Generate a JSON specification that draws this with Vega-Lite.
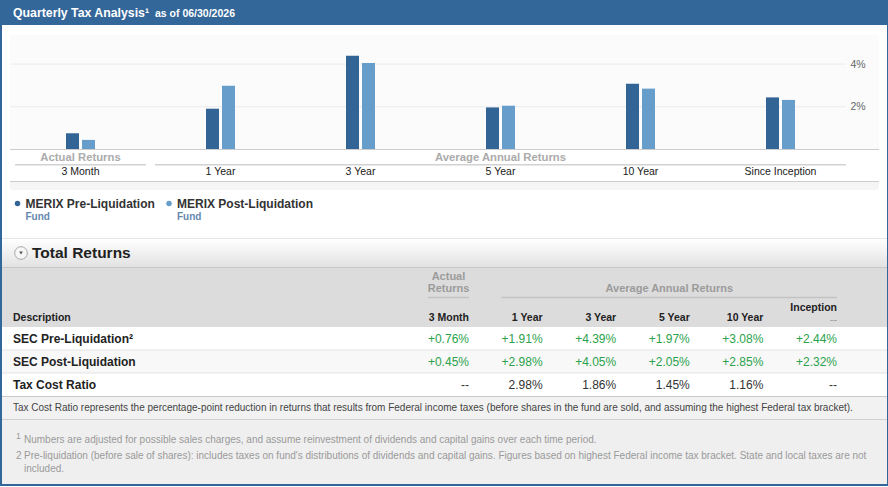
{
  "$schema": "https://vega.github.io/schema/vega-lite/v6.json",
  "background": "#336699",
  "padding": {"left": 1, "top": 0, "right": 2, "bottom": 2},
  "spacing": 0,
  "bounds": "flush",
  "config": {
    "view": {"stroke": null},
    "font": "Liberation Sans",
    "text": {"font": "Liberation Sans"}
  },
  "datasets": {
    "returns": [
      {"row": "SEC Pre-Liquidation", "period": "3 Month", "value": 0.76},
      {"row": "SEC Pre-Liquidation", "period": "1 Year", "value": 1.91},
      {"row": "SEC Pre-Liquidation", "period": "3 Year", "value": 4.39},
      {"row": "SEC Pre-Liquidation", "period": "5 Year", "value": 1.97},
      {"row": "SEC Pre-Liquidation", "period": "10 Year", "value": 3.08},
      {"row": "SEC Pre-Liquidation", "period": "Since Inception", "value": 2.44},
      {"row": "SEC Post-Liquidation", "period": "3 Month", "value": 0.45},
      {"row": "SEC Post-Liquidation", "period": "1 Year", "value": 2.98},
      {"row": "SEC Post-Liquidation", "period": "3 Year", "value": 4.05},
      {"row": "SEC Post-Liquidation", "period": "5 Year", "value": 2.05},
      {"row": "SEC Post-Liquidation", "period": "10 Year", "value": 2.85},
      {"row": "SEC Post-Liquidation", "period": "Since Inception", "value": 2.32},
      {"row": "Tax Cost Ratio", "period": "3 Month", "value": null},
      {"row": "Tax Cost Ratio", "period": "1 Year", "value": 2.98},
      {"row": "Tax Cost Ratio", "period": "3 Year", "value": 1.86},
      {"row": "Tax Cost Ratio", "period": "5 Year", "value": 1.45},
      {"row": "Tax Cost Ratio", "period": "10 Year", "value": 1.16},
      {"row": "Tax Cost Ratio", "period": "Since Inception", "value": null}
    ],
    "periods": [
      {"period": "3 Month"},
      {"period": "1 Year"},
      {"period": "3 Year"},
      {"period": "5 Year"},
      {"period": "10 Year"},
      {"period": "Since Inception"}
    ],
    "groups": [
      {"group": "Actual Returns", "center": "3 Month", "first": "3 Month", "last": "3 Month"},
      {"group": "Average Annual Returns", "center": "5 Year", "first": "1 Year", "last": "Since Inception"}
    ],
    "series": [
      {"series": "MERIX Pre-Liquidation", "kind": "Fund"},
      {"series": "MERIX Post-Liquidation", "kind": "Fund"}
    ],
    "rows": [
      {"row": "SEC Pre-Liquidation", "label": "SEC Pre-Liquidation²"},
      {"row": "SEC Post-Liquidation", "label": "SEC Post-Liquidation"},
      {"row": "Tax Cost Ratio", "label": "Tax Cost Ratio"}
    ]
  },
  "vconcat": [
    {
      "width": 885, "height": 25,
      "view": {"fill": "#336699"},
      "data": {"values": [
        {"part": "title", "text": "Quarterly Tax Analysis¹"},
        {"part": "date", "text": "as of 06/30/2026"}
      ]},
      "encoding": {
        "x": {"field": "part", "type": "nominal", "scale": {"type": "point", "domain": ["title", "date"], "range": [11, 153], "padding": 0}, "axis": null},
        "text": {"field": "text", "type": "nominal"}
      },
      "layer": [
        {"transform": [{"filter": "datum.part === 'title'"}],
         "mark": {"type": "text", "align": "left", "baseline": "alphabetic", "dy": 4.5, "fontSize": 12.3, "fontWeight": "bold", "color": "#ffffff"}},
        {"transform": [{"filter": "datum.part === 'date'"}],
         "mark": {"type": "text", "align": "left", "baseline": "alphabetic", "dy": 4.5, "fontSize": 10.5, "fontWeight": "bold", "color": "#ffffff"}}
      ]
    },
    {
      "width": 885, "height": 10,
      "view": {"fill": "#ffffff"},
      "data": {"values": [{}]},
      "mark": {"type": "rect", "color": "#ffffff"},
      "encoding": {}
    },
    {
      "width": 885, "height": 115,
      "view": {"fill": "#ffffff"},
      "resolve": {"scale": {"x": "independent", "y": "independent"}},
      "layer": [
        {
          "data": {"values": [{}]},
          "mark": {"type": "rect", "color": "#fbfbfb"},
          "encoding": {
            "x": {"datum": "from", "type": "nominal", "scale": {"type": "point", "domain": ["from", "to"], "range": [8, 877], "padding": 0}, "axis": null},
            "x2": {"datum": "to"}
          }
        },
        {
          "data": {"values": [{"level": 2}, {"level": 4}]},
          "mark": {"type": "rule", "color": "#ebebeb", "strokeWidth": 1},
          "encoding": {
            "x": {"datum": "from", "type": "nominal", "scale": {"type": "point", "domain": ["from", "to"], "range": [8, 844], "padding": 0}, "axis": null},
            "x2": {"datum": "to"},
            "y": {"field": "level", "type": "quantitative", "scale": {"domain": [0, 5.36], "range": [114.5, 0], "nice": false, "zero": false}, "axis": null}
          }
        },
        {
          "data": {"name": "returns"},
          "transform": [{"filter": "datum.row !== 'Tax Cost Ratio'"}],
          "mark": {"type": "bar"},
          "encoding": {
            "x": {"field": "period", "type": "nominal", "scale": {"type": "band", "domain": ["3 Month", "1 Year", "3 Year", "5 Year", "10 Year", "Since Inception"], "range": [8.5, 848.5], "paddingInner": 0.7929, "paddingOuter": 0.3964}, "axis": null},
            "xOffset": {"field": "row", "type": "nominal", "scale": {"domain": ["SEC Pre-Liquidation", "SEC Post-Liquidation"], "paddingInner": 0.1875, "paddingOuter": 0}},
            "y": {"field": "value", "type": "quantitative", "scale": {"domain": [0, 5.36], "range": [114.5, 0], "nice": false, "zero": false},
                  "axis": {"orient": "right", "offset": -38, "zindex": 1, "values": [2, 4], "labelExpr": "datum.value + '%'", "domain": false, "ticks": false, "grid": false, "labelPadding": 1, "labelColor": "#666666", "labelFontSize": 10.5, "labelFont": "Liberation Sans", "title": null}},
            "color": {"field": "row", "type": "nominal", "scale": {"domain": ["SEC Pre-Liquidation", "SEC Post-Liquidation"], "range": ["#326496", "#679dcb"]}, "legend": null}
          }
        },
        {
          "data": {"values": [{"level": 0}]},
          "mark": {"type": "rule", "color": "#cccccc", "strokeWidth": 1},
          "encoding": {
            "x": {"datum": "from", "type": "nominal", "scale": {"type": "point", "domain": ["from", "to"], "range": [8, 877], "padding": 0}, "axis": null},
            "x2": {"datum": "to"},
            "y": {"field": "level", "type": "quantitative", "scale": {"domain": [0, 5.36], "range": [114.5, 0], "nice": false, "zero": false}, "axis": null}
          }
        }
      ]
    },
    {
      "width": 885, "height": 31,
      "view": {"fill": "#ffffff"},
      "resolve": {"scale": {"x": "independent"}},
      "layer": [
        {
          "data": {"name": "groups"},
          "mark": {"type": "text", "fontSize": 11.3, "fontWeight": "bold", "color": "#ababab"},
          "encoding": {
            "x": {"field": "center", "type": "nominal", "scale": {"type": "band", "domain": ["3 Month", "1 Year", "3 Year", "5 Year", "10 Year", "Since Inception"], "range": [8.5, 848.5], "paddingInner": 0.7929, "paddingOuter": 0.3964}, "axis": null},
            "y": {"datum": "group", "type": "nominal", "scale": {"type": "point", "domain": ["group", "underline", "category"], "range": [7.5, 22], "padding": 0}, "axis": null},
            "text": {"field": "group", "type": "nominal"}
          }
        },
        {
          "data": {"name": "groups"},
          "mark": {"type": "rule", "color": "#d2d2d2", "strokeWidth": 1.5},
          "encoding": {
            "x": {"field": "first", "type": "nominal", "bandPosition": 0, "scale": {"type": "band", "domain": ["3 Month", "1 Year", "3 Year", "5 Year", "10 Year", "Since Inception"], "range": [8.5, 848.5], "paddingInner": 0.0643, "paddingOuter": 0.0321}, "axis": null},
            "x2": {"field": "last", "bandPosition": 1},
            "y": {"datum": "underline", "type": "nominal", "scale": {"type": "point", "domain": ["group", "underline", "category"], "range": [7.5, 22], "padding": 0}, "axis": null}
          }
        },
        {
          "data": {"name": "periods"},
          "mark": {"type": "text", "fontSize": 10.5, "color": "#1a1a1a"},
          "encoding": {
            "x": {"field": "period", "type": "nominal", "scale": {"type": "band", "domain": ["3 Month", "1 Year", "3 Year", "5 Year", "10 Year", "Since Inception"], "range": [8.5, 848.5], "paddingInner": 0.7929, "paddingOuter": 0.3964}, "axis": null},
            "y": {"datum": "category", "type": "nominal", "scale": {"type": "point", "domain": ["group", "underline", "category"], "range": [7.5, 22], "padding": 0}, "axis": null},
            "text": {"field": "period", "type": "nominal"}
          }
        }
      ]
    },
    {
      "width": 885, "height": 1,
      "view": {"fill": "#ffffff"},
      "data": {"values": [{}]},
      "mark": {"type": "rect", "color": "#cdcdcd"},
      "encoding": {
        "x": {"datum": "from", "type": "nominal", "scale": {"type": "point", "domain": ["from", "to"], "range": [8, 877], "padding": 0}, "axis": null},
        "x2": {"datum": "to"}
      }
    },
    {
      "width": 885, "height": 8,
      "view": {"fill": "#ffffff"},
      "data": {"values": [{}]},
      "mark": {"type": "rect", "color": "#f5f5f5", "cornerRadiusBottomLeft": 3, "cornerRadiusBottomRight": 3},
      "encoding": {
        "x": {"datum": "from", "type": "nominal", "scale": {"type": "point", "domain": ["from", "to"], "range": [8, 877], "padding": 0}, "axis": null},
        "x2": {"datum": "to"}
      }
    },
    {
      "width": 885, "height": 48,
      "view": {"fill": "#ffffff"},
      "data": {"name": "series"},
      "encoding": {
        "x": {"field": "series", "type": "nominal", "scale": {"type": "point", "domain": ["MERIX Pre-Liquidation", "MERIX Post-Liquidation"], "range": [15.5, 167], "padding": 0}, "axis": null}
      },
      "layer": [
        {
          "mark": {"type": "point", "shape": "circle", "filled": true, "size": 30, "opacity": 1},
          "encoding": {
            "y": {"datum": "name", "type": "nominal", "scale": {"type": "point", "domain": ["name", "sub"], "range": [13.5, 26.5], "padding": 0}, "axis": null},
            "color": {"field": "series", "type": "nominal", "scale": {"domain": ["MERIX Pre-Liquidation", "MERIX Post-Liquidation"], "range": ["#1c4a86", "#2468b8"]}, "legend": null}
          }
        },
        {
          "mark": {"type": "text", "align": "left", "dx": 8, "fontSize": 12, "fontWeight": "bold", "color": "#333333"},
          "encoding": {
            "y": {"datum": "name", "type": "nominal", "scale": {"type": "point", "domain": ["name", "sub"], "range": [13.5, 26.5], "padding": 0}, "axis": null},
            "text": {"field": "series", "type": "nominal"}
          }
        },
        {
          "mark": {"type": "text", "align": "left", "dx": 8, "fontSize": 10, "fontWeight": "bold", "color": "#6688b0"},
          "encoding": {
            "y": {"datum": "sub", "type": "nominal", "scale": {"type": "point", "domain": ["name", "sub"], "range": [13.5, 26.5], "padding": 0}, "axis": null},
            "text": {"field": "kind", "type": "nominal"}
          }
        }
      ]
    },
    {
      "width": 885, "height": 1,
      "view": {"fill": "#e6e6e6"},
      "data": {"values": [{}]},
      "mark": {"type": "rect", "color": "#e6e6e6"},
      "encoding": {}
    },
    {
      "width": 885, "height": 28,
      "data": {"values": [{"section": "Total Returns"}]},
      "resolve": {"scale": {"x": "independent"}},
      "layer": [
        {
          "mark": {"type": "rect", "fill": {"gradient": "linear", "x1": 0, "y1": 0, "x2": 0, "y2": 1, "stops": [{"offset": 0, "color": "#ffffff"}, {"offset": 1, "color": "#e2e2e2"}]}},
          "encoding": {}
        },
        {
          "mark": {"type": "point", "shape": "circle", "filled": true, "size": 160, "fill": "#f6f6f6", "stroke": "#a8a8a8", "strokeWidth": 1, "opacity": 1},
          "encoding": {
            "x": {"datum": "icon", "type": "nominal", "scale": {"type": "point", "domain": ["icon", "title"], "range": [19, 30], "padding": 0}, "axis": null}
          }
        },
        {
          "mark": {"type": "point", "shape": "triangle-down", "filled": true, "size": 14, "color": "#555555", "opacity": 1},
          "encoding": {
            "x": {"datum": "icon", "type": "nominal", "scale": {"type": "point", "domain": ["icon", "title"], "range": [19, 30], "padding": 0}, "axis": null}
          }
        },
        {
          "mark": {"type": "text", "align": "left", "fontSize": 15.5, "fontWeight": "bold", "color": "#222222"},
          "encoding": {
            "x": {"datum": "title", "type": "nominal", "scale": {"type": "point", "domain": ["icon", "title"], "range": [19, 30], "padding": 0}, "axis": null},
            "text": {"field": "section", "type": "nominal"}
          }
        }
      ]
    },
    {
      "width": 885, "height": 1,
      "view": {"fill": "#c8c8c8"},
      "data": {"values": [{}]},
      "mark": {"type": "rect", "color": "#c8c8c8"},
      "encoding": {}
    },
    {
      "width": 885, "height": 59,
      "view": {"fill": "#dcdcdc"},
      "resolve": {"scale": {"x": "independent"}},
      "layer": [
        {
          "data": {"values": [{"heading": "Description"}]},
          "mark": {"type": "text", "align": "left", "fontSize": 10.5, "fontWeight": "bold", "color": "#222222"},
          "encoding": {
            "x": {"field": "heading", "type": "nominal", "bandPosition": 0, "scale": {"type": "band", "range": [11, 420], "paddingInner": 0, "paddingOuter": 0}, "axis": null},
            "y": {"datum": "labels", "type": "nominal", "scale": {"type": "point", "domain": ["upper", "middle", "rule", "above", "labels"], "range": [9, 50], "padding": 0}, "axis": null},
            "text": {"field": "heading", "type": "nominal"}
          }
        },
        {
          "data": {"name": "periods"},
          "transform": [{"filter": "datum.period !== 'Since Inception'"}],
          "mark": {"type": "text", "align": "right", "fontSize": 10.5, "fontWeight": "bold", "color": "#222222"},
          "encoding": {
            "x": {"field": "period", "type": "nominal", "bandPosition": 1, "scale": {"type": "band", "domain": ["3 Month", "1 Year", "3 Year", "5 Year", "10 Year", "Since Inception"], "range": [426, 835], "paddingInner": 0.4432, "paddingOuter": 0}, "axis": null},
            "y": {"datum": "labels", "type": "nominal", "scale": {"type": "point", "domain": ["upper", "middle", "rule", "above", "labels"], "range": [9, 50], "padding": 0}, "axis": null},
            "text": {"field": "period", "type": "nominal"}
          }
        },
        {
          "data": {"values": [{"period": "Since Inception", "heading": "Inception", "date": "--"}]},
          "mark": {"type": "text", "align": "right", "fontSize": 10.5, "fontWeight": "bold", "color": "#222222"},
          "encoding": {
            "x": {"field": "period", "type": "nominal", "bandPosition": 1, "scale": {"type": "band", "domain": ["3 Month", "1 Year", "3 Year", "5 Year", "10 Year", "Since Inception"], "range": [426, 835], "paddingInner": 0.4432, "paddingOuter": 0}, "axis": null},
            "y": {"datum": "above", "type": "nominal", "scale": {"type": "point", "domain": ["upper", "middle", "rule", "above", "labels"], "range": [9, 50], "padding": 0}, "axis": null},
            "text": {"field": "heading", "type": "nominal"}
          }
        },
        {
          "data": {"values": [{"period": "Since Inception", "heading": "Inception", "date": "--"}]},
          "mark": {"type": "text", "align": "right", "dy": 2, "fontSize": 10.5, "color": "#999999"},
          "encoding": {
            "x": {"field": "period", "type": "nominal", "bandPosition": 1, "scale": {"type": "band", "domain": ["3 Month", "1 Year", "3 Year", "5 Year", "10 Year", "Since Inception"], "range": [426, 835], "paddingInner": 0.4432, "paddingOuter": 0}, "axis": null},
            "y": {"datum": "labels", "type": "nominal", "scale": {"type": "point", "domain": ["upper", "middle", "rule", "above", "labels"], "range": [9, 50], "padding": 0}, "axis": null},
            "text": {"field": "date", "type": "nominal"}
          }
        },
        {
          "data": {"values": [{"center": "3 Month", "text": "Actual"}]},
          "mark": {"type": "text", "fontSize": 11, "fontWeight": "bold", "color": "#9b9b9b"},
          "encoding": {
            "x": {"field": "center", "type": "nominal", "scale": {"type": "band", "domain": ["3 Month", "1 Year", "3 Year", "5 Year", "10 Year", "Since Inception"], "range": [426, 835], "paddingInner": 0.4432, "paddingOuter": 0}, "axis": null},
            "y": {"datum": "upper", "type": "nominal", "scale": {"type": "point", "domain": ["upper", "middle", "rule", "above", "labels"], "range": [9, 50], "padding": 0}, "axis": null},
            "text": {"field": "text", "type": "nominal"}
          }
        },
        {
          "data": {"values": [
            {"center": "3 Month", "text": "Returns"},
            {"center": "5 Year", "text": "Average Annual Returns"}
          ]},
          "mark": {"type": "text", "dy": 1.75, "fontSize": 11, "fontWeight": "bold", "color": "#9b9b9b"},
          "encoding": {
            "x": {"field": "center", "type": "nominal", "scale": {"type": "band", "domain": ["3 Month", "1 Year", "3 Year", "5 Year", "10 Year", "Since Inception"], "range": [426, 835], "paddingInner": 0.4432, "paddingOuter": 0}, "axis": null},
            "y": {"datum": "middle", "type": "nominal", "scale": {"type": "point", "domain": ["upper", "middle", "rule", "above", "labels"], "range": [9, 50], "padding": 0}, "axis": null},
            "text": {"field": "text", "type": "nominal"}
          }
        },
        {
          "data": {"name": "groups"},
          "mark": {"type": "rule", "color": "#c2c2c2", "strokeWidth": 1.5},
          "encoding": {
            "x": {"field": "first", "type": "nominal", "bandPosition": 0, "scale": {"type": "band", "domain": ["3 Month", "1 Year", "3 Year", "5 Year", "10 Year", "Since Inception"], "range": [426, 835], "paddingInner": 0.4432, "paddingOuter": 0}, "axis": null},
            "x2": {"field": "last", "bandPosition": 1},
            "y": {"datum": "rule", "type": "nominal", "scale": {"type": "point", "domain": ["upper", "middle", "rule", "above", "labels"], "range": [9, 50], "padding": 0}, "axis": null}
          }
        }
      ]
    },
    {
      "width": 885, "height": 69,
      "view": {"fill": "#ffffff"},
      "resolve": {"scale": {"x": "independent"}},
      "layer": [
        {
          "data": {"name": "rows"},
          "transform": [{"filter": "datum.row === 'SEC Post-Liquidation'"}],
          "mark": {"type": "rect", "color": "#f8f8f8"},
          "encoding": {
            "y": {"field": "row", "type": "nominal", "scale": {"type": "band", "domain": ["SEC Pre-Liquidation", "SEC Post-Liquidation", "Tax Cost Ratio"], "range": [0, 69], "paddingInner": 0, "paddingOuter": 0}, "axis": null}
          }
        },
        {
          "data": {"name": "rows"},
          "transform": [{"filter": "datum.row !== 'SEC Pre-Liquidation'"}],
          "mark": {"type": "rule", "color": "#e3e3e3", "strokeWidth": 1},
          "encoding": {
            "y": {"field": "row", "type": "nominal", "bandPosition": 0, "scale": {"type": "band", "domain": ["SEC Pre-Liquidation", "SEC Post-Liquidation", "Tax Cost Ratio"], "range": [0, 69], "paddingInner": 0, "paddingOuter": 0}, "axis": null}
          }
        },
        {
          "data": {"name": "rows"},
          "mark": {"type": "text", "align": "left", "fontSize": 12, "fontWeight": "bold", "color": "#222222"},
          "encoding": {
            "x": {"datum": "Description", "type": "nominal", "bandPosition": 0, "scale": {"type": "band", "domain": ["Description"], "range": [11, 420], "paddingInner": 0, "paddingOuter": 0}, "axis": null},
            "y": {"field": "row", "type": "nominal", "scale": {"type": "band", "domain": ["SEC Pre-Liquidation", "SEC Post-Liquidation", "Tax Cost Ratio"], "range": [0, 69], "paddingInner": 0, "paddingOuter": 0}, "axis": null},
            "text": {"field": "label", "type": "nominal"}
          }
        },
        {
          "data": {"name": "returns"},
          "transform": [
            {"calculate": "datum.value == null ? '--' : (datum.row === 'Tax Cost Ratio' ? format(datum.value, '.2f') : format(datum.value, '+.2f')) + '%'", "as": "shown"}
          ],
          "mark": {"type": "text", "align": "right", "fontSize": 12},
          "encoding": {
            "x": {"field": "period", "type": "nominal", "bandPosition": 1, "scale": {"type": "band", "domain": ["3 Month", "1 Year", "3 Year", "5 Year", "10 Year", "Since Inception"], "range": [426, 835], "paddingInner": 0.4432, "paddingOuter": 0}, "axis": null},
            "y": {"field": "row", "type": "nominal", "scale": {"type": "band", "domain": ["SEC Pre-Liquidation", "SEC Post-Liquidation", "Tax Cost Ratio"], "range": [0, 69], "paddingInner": 0, "paddingOuter": 0}, "axis": null},
            "text": {"field": "shown", "type": "nominal"},
            "color": {"condition": {"test": "datum.row === 'Tax Cost Ratio'", "value": "#333333"}, "value": "#2ba24c"}
          }
        }
      ]
    },
    {
      "width": 885, "height": 1,
      "view": {"fill": "#c9c9c9"},
      "data": {"values": [{}]},
      "mark": {"type": "rect", "color": "#c9c9c9"},
      "encoding": {}
    },
    {
      "width": 885, "height": 22,
      "view": {"fill": "#f2f2f2"},
      "data": {"values": [{"note": "Tax Cost Ratio represents the percentage-point reduction in returns that results from Federal income taxes (before shares in the fund are sold, and assuming the highest Federal tax bracket)."}]},
      "mark": {"type": "text", "align": "left", "fontSize": 10, "color": "#444444"},
      "encoding": {
        "x": {"field": "note", "type": "nominal", "bandPosition": 0, "scale": {"type": "band", "range": [11, 880], "paddingInner": 0, "paddingOuter": 0}, "axis": null},
        "text": {"field": "note", "type": "nominal"}
      }
    },
    {
      "width": 885, "height": 1,
      "view": {"fill": "#d0d0d0"},
      "data": {"values": [{}]},
      "mark": {"type": "rect", "color": "#d0d0d0"},
      "encoding": {}
    },
    {
      "width": 885, "height": 64,
      "view": {"fill": "#efefef"},
      "data": {"values": [
        {"marker": "1", "body": "Numbers are adjusted for possible sales charges, and assume reinvestment of dividends and capital gains over each time period."},
        {"marker": "2", "body": "Pre-liquidation (before sale of shares): includes taxes on fund's distributions of dividends and capital gains. Figures based on highest Federal income tax bracket. State and local taxes are not\nincluded."}
      ]},
      "layer": [
        {
          "transform": [{"filter": "datum.marker === '1'"}],
          "mark": {"type": "text", "align": "left", "baseline": "alphabetic", "dy": -4, "fontSize": 8.5, "color": "#9a9a9a"},
          "encoding": {
            "x": {"datum": "marker", "type": "nominal", "scale": {"type": "point", "domain": ["marker", "body"], "range": [14, 22], "padding": 0}, "axis": null},
            "y": {"field": "marker", "type": "nominal", "scale": {"type": "point", "domain": ["1", "2"], "range": [22.5, 38.5], "padding": 0}, "axis": null},
            "text": {"field": "marker", "type": "nominal"}
          }
        },
        {
          "transform": [{"filter": "datum.marker === '2'"}],
          "mark": {"type": "text", "align": "left", "baseline": "alphabetic", "fontSize": 10, "color": "#9a9a9a"},
          "encoding": {
            "x": {"datum": "marker", "type": "nominal", "scale": {"type": "point", "domain": ["marker", "body"], "range": [14, 22], "padding": 0}, "axis": null},
            "y": {"field": "marker", "type": "nominal", "scale": {"type": "point", "domain": ["1", "2"], "range": [22.5, 38.5], "padding": 0}, "axis": null},
            "text": {"field": "marker", "type": "nominal"}
          }
        },
        {
          "mark": {"type": "text", "align": "left", "baseline": "alphabetic", "lineBreak": "\n", "lineHeight": 13, "fontSize": 10, "color": "#9a9a9a"},
          "encoding": {
            "x": {"datum": "body", "type": "nominal", "scale": {"type": "point", "domain": ["marker", "body"], "range": [14, 22], "padding": 0}, "axis": null},
            "y": {"field": "marker", "type": "nominal", "scale": {"type": "point", "domain": ["1", "2"], "range": [22.5, 38.5], "padding": 0}, "axis": null},
            "text": {"field": "body", "type": "nominal"}
          }
        }
      ]
    }
  ]
}
